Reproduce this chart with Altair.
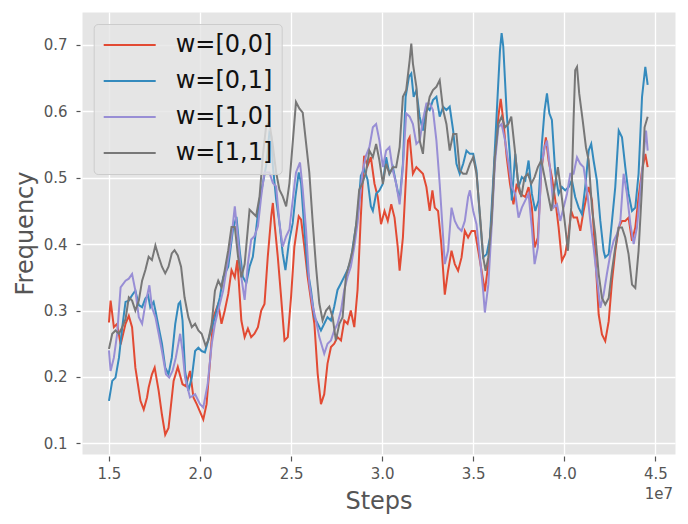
import altair as alt
import pandas as pd

FONT = "DejaVu Sans"
SERIES = ["w=[0,0]", "w=[0,1]", "w=[1,0]", "w=[1,1]"]
COLORS = ["#E24A33", "#348ABD", "#988ED5", "#777777"]
X_TICKS = [1.5, 2.0, 2.5, 3.0, 3.5, 4.0, 4.5]
Y_TICKS = [0.1, 0.2, 0.3, 0.4, 0.5, 0.6, 0.7]
OFFSET_LABEL = "1e7"
X_TITLE = "Steps"
Y_TITLE = "Frequency"

# (steps in units of 1e7, frequency)
RED = [(1.50,0.282),(1.509,0.315),(1.527,0.275),(1.545,0.28),(1.564,0.249),(1.591,0.28),(1.609,0.292),(1.627,0.275),(1.645,0.214),(1.673,0.164),(1.691,0.151),(1.709,0.169),(1.718,0.184),(1.736,0.204),(1.751,0.214),(1.773,0.179),(1.791,0.143),(1.809,0.113),(1.827,0.123),(1.855,0.194),(1.878,0.215),(1.904,0.189),(1.922,0.186),(1.945,0.209),(1.964,0.169),(1.982,0.159),(2.018,0.136),(2.036,0.159),(2.055,0.224),(2.073,0.29),(2.10,0.31),(2.118,0.28),(2.136,0.30),(2.155,0.325),(2.173,0.361),(2.191,0.35),(2.205,0.376),(2.227,0.285),(2.245,0.26),(2.263,0.273),(2.281,0.26),(2.299,0.265),(2.318,0.275),(2.336,0.30),(2.354,0.31),(2.372,0.381),(2.391,0.442),(2.40,0.462),(2.409,0.432),(2.427,0.381),(2.445,0.321),(2.464,0.255),(2.482,0.26),(2.50,0.321),(2.518,0.396),(2.542,0.442),(2.555,0.437),(2.573,0.396),(2.591,0.351),(2.609,0.316),(2.628,0.28),(2.646,0.205),(2.664,0.159),(2.682,0.174),(2.70,0.22),(2.719,0.245),(2.737,0.25),(2.755,0.26),(2.774,0.255),(2.792,0.285),(2.81,0.28),(2.828,0.30),(2.847,0.275),(2.865,0.331),(2.883,0.442),(2.901,0.533),(2.92,0.518),(2.938,0.531),(2.958,0.491),(2.976,0.471),(2.994,0.43),(3.013,0.45),(3.031,0.435),(3.05,0.46),(3.068,0.44),(3.086,0.395),(3.096,0.36),(3.114,0.41),(3.132,0.506),(3.142,0.556),(3.151,0.561),(3.169,0.506),(3.188,0.516),(3.206,0.511),(3.224,0.506),(3.243,0.486),(3.261,0.45),(3.276,0.481),(3.289,0.455),(3.307,0.45),(3.325,0.40),(3.344,0.324),(3.362,0.36),(3.381,0.39),(3.399,0.37),(3.417,0.36),(3.436,0.38),(3.454,0.42),(3.472,0.41),(3.491,0.42),(3.509,0.42),(3.528,0.39),(3.546,0.36),(3.564,0.329),(3.583,0.37),(3.601,0.44),(3.619,0.531),(3.638,0.592),(3.651,0.619),(3.665,0.587),(3.684,0.531),(3.702,0.491),(3.721,0.46),(3.739,0.491),(3.757,0.476),(3.786,0.471),(3.804,0.486),(3.822,0.455),(3.837,0.395),(3.855,0.41),(3.874,0.511),(3.886,0.536),(3.899,0.561),(3.914,0.526),(3.932,0.501),(3.951,0.466),(3.969,0.425),(3.987,0.375),(4.005,0.385),(4.024,0.415),(4.038,0.45),(4.051,0.44),(4.07,0.44),(4.088,0.42),(4.106,0.45),(4.125,0.476),(4.134,0.486),(4.152,0.466),(4.17,0.385),(4.189,0.294),(4.207,0.264),(4.225,0.254),(4.244,0.284),(4.262,0.344),(4.28,0.39),(4.299,0.425),(4.317,0.435),(4.335,0.435),(4.353,0.44),(4.372,0.405),(4.39,0.425),(4.408,0.471),(4.427,0.511),(4.445,0.536),(4.458,0.516)]

BLUE = [(1.50,0.164),(1.518,0.194),(1.536,0.199),(1.555,0.229),(1.573,0.275),(1.591,0.313),(1.609,0.315),(1.627,0.323),(1.645,0.33),(1.664,0.308),(1.682,0.305),(1.70,0.318),(1.715,0.323),(1.727,0.305),(1.745,0.313),(1.755,0.30),(1.773,0.275),(1.791,0.25),(1.809,0.214),(1.827,0.204),(1.845,0.229),(1.864,0.28),(1.882,0.31),(1.891,0.313),(1.904,0.285),(1.918,0.209),(1.936,0.179),(1.955,0.199),(1.973,0.239),(1.991,0.244),(2.009,0.239),(2.027,0.237),(2.055,0.265),(2.082,0.29),(2.109,0.32),(2.127,0.35),(2.155,0.366),(2.182,0.424),(2.20,0.441),(2.218,0.39),(2.235,0.351),(2.254,0.341),(2.272,0.366),(2.29,0.381),(2.308,0.422),(2.327,0.467),(2.345,0.492),(2.363,0.518),(2.381,0.568),(2.391,0.563),(2.40,0.518),(2.418,0.467),(2.436,0.432),(2.454,0.386),(2.469,0.361),(2.487,0.40),(2.509,0.432),(2.524,0.472),(2.542,0.508),(2.555,0.492),(2.573,0.422),(2.591,0.361),(2.609,0.331),(2.628,0.29),(2.646,0.28),(2.664,0.27),(2.682,0.28),(2.70,0.29),(2.719,0.285),(2.737,0.306),(2.755,0.331),(2.774,0.341),(2.792,0.351),(2.81,0.361),(2.828,0.376),(2.847,0.411),(2.865,0.442),(2.883,0.503),(2.901,0.513),(2.92,0.497),(2.938,0.457),(2.949,0.45),(2.967,0.476),(2.985,0.481),(3.004,0.491),(3.022,0.531),(3.04,0.506),(3.059,0.516),(3.077,0.491),(3.096,0.466),(3.114,0.521),(3.129,0.622),(3.147,0.652),(3.16,0.657),(3.173,0.622),(3.188,0.632),(3.206,0.592),(3.224,0.571),(3.243,0.607),(3.261,0.602),(3.279,0.617),(3.298,0.622),(3.316,0.592),(3.335,0.607),(3.353,0.602),(3.371,0.607),(3.39,0.571),(3.408,0.521),(3.426,0.506),(3.445,0.521),(3.463,0.541),(3.482,0.536),(3.50,0.536),(3.518,0.511),(3.537,0.44),(3.555,0.38),(3.574,0.385),(3.592,0.41),(3.61,0.496),(3.629,0.597),(3.647,0.692),(3.656,0.718),(3.665,0.698),(3.684,0.597),(3.702,0.531),(3.712,0.466),(3.731,0.536),(3.749,0.486),(3.767,0.501),(3.786,0.496),(3.804,0.526),(3.822,0.476),(3.841,0.45),(3.859,0.466),(3.877,0.551),(3.892,0.602),(3.905,0.627),(3.918,0.597),(3.932,0.587),(3.951,0.506),(3.969,0.476),(3.987,0.486),(4.005,0.481),(4.024,0.486),(4.042,0.496),(4.06,0.471),(4.079,0.455),(4.097,0.445),(4.115,0.486),(4.134,0.541),(4.148,0.551),(4.161,0.526),(4.179,0.496),(4.198,0.435),(4.216,0.39),(4.225,0.38),(4.244,0.385),(4.262,0.435),(4.28,0.486),(4.299,0.571),(4.317,0.561),(4.335,0.516),(4.353,0.476),(4.372,0.45),(4.39,0.455),(4.408,0.506),(4.427,0.622),(4.445,0.667),(4.458,0.64)]

PURPLE = [(1.50,0.24),(1.509,0.209),(1.527,0.229),(1.545,0.265),(1.564,0.335),(1.591,0.345),(1.609,0.348),(1.627,0.355),(1.645,0.33),(1.664,0.29),(1.682,0.28),(1.70,0.31),(1.722,0.338),(1.736,0.305),(1.755,0.29),(1.773,0.265),(1.791,0.239),(1.813,0.204),(1.831,0.199),(1.849,0.209),(1.867,0.229),(1.891,0.265),(1.904,0.239),(1.918,0.199),(1.945,0.169),(1.973,0.174),(2.00,0.159),(2.018,0.154),(2.042,0.189),(2.064,0.249),(2.082,0.28),(2.10,0.30),(2.127,0.33),(2.151,0.371),(2.173,0.411),(2.191,0.457),(2.209,0.406),(2.227,0.35),(2.245,0.316),(2.263,0.371),(2.281,0.407),(2.299,0.412),(2.318,0.427),(2.336,0.472),(2.354,0.508),(2.381,0.508),(2.40,0.492),(2.418,0.487),(2.436,0.432),(2.454,0.396),(2.473,0.412),(2.491,0.422),(2.509,0.467),(2.527,0.508),(2.549,0.523),(2.564,0.482),(2.582,0.422),(2.60,0.341),(2.619,0.306),(2.637,0.285),(2.655,0.26),(2.682,0.235),(2.70,0.25),(2.719,0.255),(2.737,0.27),(2.755,0.28),(2.774,0.30),(2.792,0.331),(2.81,0.351),(2.828,0.366),(2.847,0.396),(2.865,0.432),(2.892,0.508),(2.911,0.533),(2.93,0.546),(2.949,0.576),(2.967,0.581),(2.985,0.556),(3.004,0.516),(3.022,0.541),(3.04,0.546),(3.059,0.511),(3.077,0.491),(3.096,0.46),(3.114,0.516),(3.132,0.597),(3.151,0.592),(3.169,0.581),(3.188,0.551),(3.206,0.556),(3.224,0.587),(3.243,0.612),(3.261,0.612),(3.279,0.602),(3.298,0.556),(3.316,0.491),(3.335,0.41),(3.344,0.37),(3.362,0.39),(3.381,0.455),(3.399,0.435),(3.417,0.425),(3.436,0.42),(3.454,0.435),(3.472,0.471),(3.482,0.481),(3.50,0.45),(3.518,0.43),(3.537,0.38),(3.555,0.329),(3.564,0.297),(3.583,0.339),(3.601,0.425),(3.619,0.521),(3.638,0.576),(3.656,0.581),(3.675,0.556),(3.694,0.521),(3.712,0.486),(3.731,0.476),(3.749,0.44),(3.767,0.455),(3.786,0.466),(3.804,0.476),(3.822,0.425),(3.837,0.37),(3.855,0.395),(3.874,0.516),(3.892,0.546),(3.905,0.556),(3.923,0.511),(3.941,0.455),(3.96,0.46),(3.978,0.435),(3.996,0.455),(4.015,0.476),(4.033,0.506),(4.051,0.506),(4.07,0.531),(4.088,0.521),(4.106,0.516),(4.125,0.481),(4.143,0.435),(4.161,0.395),(4.179,0.35),(4.198,0.304),(4.216,0.324),(4.234,0.355),(4.253,0.385),(4.271,0.405),(4.289,0.415),(4.308,0.435),(4.326,0.506),(4.344,0.476),(4.363,0.43),(4.381,0.40),(4.399,0.425),(4.418,0.481),(4.436,0.536),(4.449,0.571),(4.458,0.541)]

GRAY = [(1.50,0.242),(1.518,0.265),(1.536,0.27),(1.555,0.265),(1.573,0.275),(1.591,0.287),(1.609,0.32),(1.627,0.315),(1.645,0.30),(1.664,0.315),(1.682,0.345),(1.70,0.361),(1.718,0.381),(1.736,0.376),(1.755,0.398),(1.773,0.381),(1.791,0.366),(1.809,0.356),(1.827,0.366),(1.845,0.386),(1.86,0.391),(1.878,0.383),(1.896,0.366),(1.915,0.32),(1.936,0.29),(1.955,0.275),(1.973,0.28),(1.991,0.27),(2.009,0.265),(2.031,0.247),(2.045,0.255),(2.064,0.28),(2.082,0.33),(2.10,0.345),(2.118,0.335),(2.136,0.361),(2.155,0.391),(2.173,0.426),(2.191,0.426),(2.209,0.381),(2.227,0.35),(2.245,0.37),(2.255,0.40),(2.272,0.452),(2.29,0.447),(2.308,0.442),(2.327,0.472),(2.345,0.533),(2.363,0.578),(2.381,0.583),(2.40,0.548),(2.418,0.508),(2.436,0.482),(2.454,0.472),(2.473,0.457),(2.491,0.492),(2.509,0.553),(2.527,0.614),(2.546,0.604),(2.564,0.598),(2.582,0.553),(2.60,0.508),(2.619,0.432),(2.637,0.366),(2.655,0.311),(2.673,0.285),(2.692,0.30),(2.71,0.306),(2.728,0.29),(2.746,0.255),(2.765,0.28),(2.783,0.29),(2.801,0.351),(2.82,0.371),(2.838,0.391),(2.856,0.427),(2.874,0.482),(2.892,0.492),(2.911,0.508),(2.93,0.541),(2.949,0.531),(2.967,0.551),(2.985,0.526),(3.004,0.491),(3.022,0.521),(3.04,0.506),(3.059,0.516),(3.077,0.516),(3.096,0.546),(3.114,0.622),(3.132,0.632),(3.151,0.677),(3.16,0.702),(3.169,0.672),(3.188,0.637),(3.206,0.556),(3.224,0.536),(3.243,0.597),(3.261,0.622),(3.279,0.632),(3.298,0.637),(3.316,0.647),(3.335,0.602),(3.353,0.581),(3.371,0.541),(3.39,0.566),(3.408,0.566),(3.426,0.511),(3.445,0.506),(3.463,0.506),(3.482,0.521),(3.50,0.531),(3.518,0.506),(3.537,0.445),(3.555,0.38),(3.568,0.36),(3.583,0.38),(3.601,0.435),(3.619,0.531),(3.638,0.581),(3.656,0.592),(3.675,0.576),(3.693,0.581),(3.709,0.592),(3.727,0.546),(3.745,0.496),(3.764,0.471),(3.782,0.501),(3.80,0.506),(3.819,0.491),(3.837,0.501),(3.855,0.516),(3.874,0.526),(3.892,0.501),(3.91,0.476),(3.929,0.45),(3.947,0.486),(3.965,0.516),(3.984,0.476),(4.002,0.435),(4.02,0.39),(4.038,0.455),(4.051,0.587),(4.06,0.662),(4.07,0.667),(4.082,0.627),(4.101,0.587),(4.119,0.546),(4.134,0.526),(4.152,0.455),(4.17,0.415),(4.189,0.355),(4.207,0.319),(4.225,0.309),(4.244,0.319),(4.262,0.36),(4.28,0.395),(4.299,0.425),(4.317,0.425),(4.335,0.41),(4.353,0.385),(4.372,0.339),(4.39,0.334),(4.408,0.39),(4.427,0.486),(4.441,0.576),(4.458,0.592)]

rows = []
for name, pts in zip(SERIES, [RED, BLUE, PURPLE, GRAY]):
    for i, (s, f) in enumerate(pts):
        rows.append({"series": name, "idx": i, "steps": s, "freq": f})
df = pd.DataFrame(rows)

lines = alt.Chart(df).mark_line(strokeWidth=2, clip=True).encode(
    x=alt.X("steps:Q",
            scale=alt.Scale(domain=[1.352, 4.608], nice=False, zero=False),
            axis=alt.Axis(values=X_TICKS, format=".1f", title=X_TITLE,
                          offset=2, tickSize=5, labelPadding=5, titlePadding=8)),
    y=alt.Y("freq:Q",
            scale=alt.Scale(domain=[0.0839, 0.7497], nice=False, zero=False),
            axis=alt.Axis(values=Y_TICKS, format=".1f", title=Y_TITLE,
                          offset=2, tickSize=4, labelPadding=9, titlePadding=6)),
    color=alt.Color("series:N",
                    scale=alt.Scale(domain=SERIES, range=COLORS),
                    legend=alt.Legend(title=None, orient="none", legendX=11.7, legendY=12,
                                      symbolType="stroke", symbolSize=2704, symbolStrokeWidth=2,
                                      labelFontSize=24, labelFont=FONT, labelColor="#111111",
                                      labelOffset=19, rowPadding=12, clipHeight=24, padding=9,
                                      fillColor="rgba(229,229,229,0.8)", strokeColor="#CCCCCC",
                                      cornerRadius=4)),
    order="idx:Q",
)

offset_text = alt.Chart(pd.DataFrame({"t": [OFFSET_LABEL]})).mark_text(
    align="right", baseline="middle", fontSize=15, color="#555555", font=FONT
).encode(x=alt.value(591), y=alt.value(482), text="t:N")

chart = alt.layer(lines, offset_text).properties(
    width=593, height=442,
    autosize=alt.AutoSizeParams(type="none"),
    padding={"left": 74, "top": 4, "right": 5, "bottom": 60},
    background="white",
).configure_view(
    fill="#E5E5E5", stroke="transparent"
).configure_axis(
    grid=True, gridColor="white", gridWidth=1.3, domain=False,
    tickColor="#555555", tickWidth=1.2,
    labelColor="#555555", titleColor="#555555",
    labelFont=FONT, titleFont=FONT, labelFontSize=15, titleFontSize=24,
    titleFontWeight="normal",
)

chart.save("out.html", embed_options={"renderer": "svg", "actions": False})
